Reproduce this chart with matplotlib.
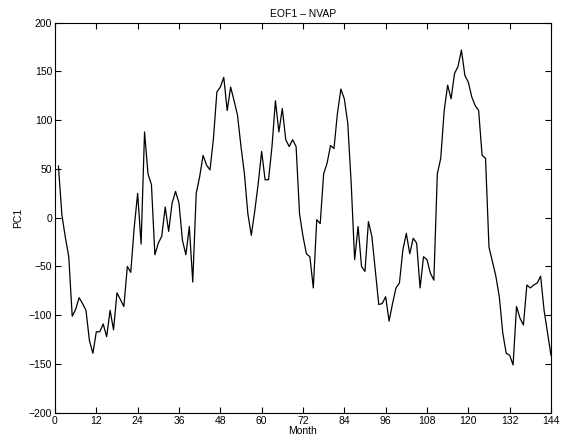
import numpy as np
import matplotlib
matplotlib.use("Agg")
import matplotlib.pyplot as plt

plt.rcParams["font.family"] = ["Liberation Sans", "DejaVu Sans"]

# -------- Data --------
months = np.arange(1, 145)
pc1 = [
    53, 3, -20, -40, -101, -94, -82, -88, -95, -126, -139, -117,
    -117, -109, -122, -95, -115, -77, -84, -91, -50, -56, -10, 25,
    -27, 88, 45, 34, -38, -26, -19, 11, -14, 15, 27, 15,
    -23, -38, -9, -66, 25, 42, 64, 54, 49, 81, 129, 134,
    144, 110, 134, 120, 105, 73, 45, 4, -18, 7, 35, 68,
    39, 39, 73, 120, 88, 112, 80, 73, 80, 73, 4, -19,
    -37, -40, -72, -2, -6, 45, 56, 74, 71, 107, 132, 122,
    97, 35, -43, -9, -50, -55, -4, -19, -54, -89, -88, -81,
    -106, -88, -72, -67, -33, -16, -37, -21, -26, -72, -40, -43,
    -57, -64, 45, 61, 110, 136, 122, 148, 155, 172, 146, 139,
    124, 115, 110, 64, 61, -30, -45, -60, -81, -118, -139, -141,
    -151, -91, -103, -110, -69, -72, -69, -67, -60, -95, -118, -141,
]
xticks = np.arange(0, 145, 12)
yticks = np.arange(-200, 201, 50)

# -------- Plot --------
fig = plt.figure(figsize=(5.64, 4.46), dpi=100)
ax = fig.add_axes([0.0975, 0.0746, 0.8794, 0.8744])
ax.plot(months, pc1, color="black", linewidth=0.9)

ax.set_xlim(0, 144)
ax.set_ylim(-200, 200)
ax.set_xticks(xticks)
ax.set_yticks(yticks)
ax.tick_params(direction="in", top=True, right=True, labelsize=7.5, length=4, width=0.8, pad=2)
for s in ax.spines.values():
    s.set_linewidth(0.8)

ax.set_title("EOF1 \u2013 NVAP", fontsize=7.5, pad=4)
ax.set_xlabel("Month", fontsize=7.5, labelpad=0)
ax.set_ylabel("PC1", fontsize=7.5, labelpad=4)

fig.savefig("out.png", dpi=100)
